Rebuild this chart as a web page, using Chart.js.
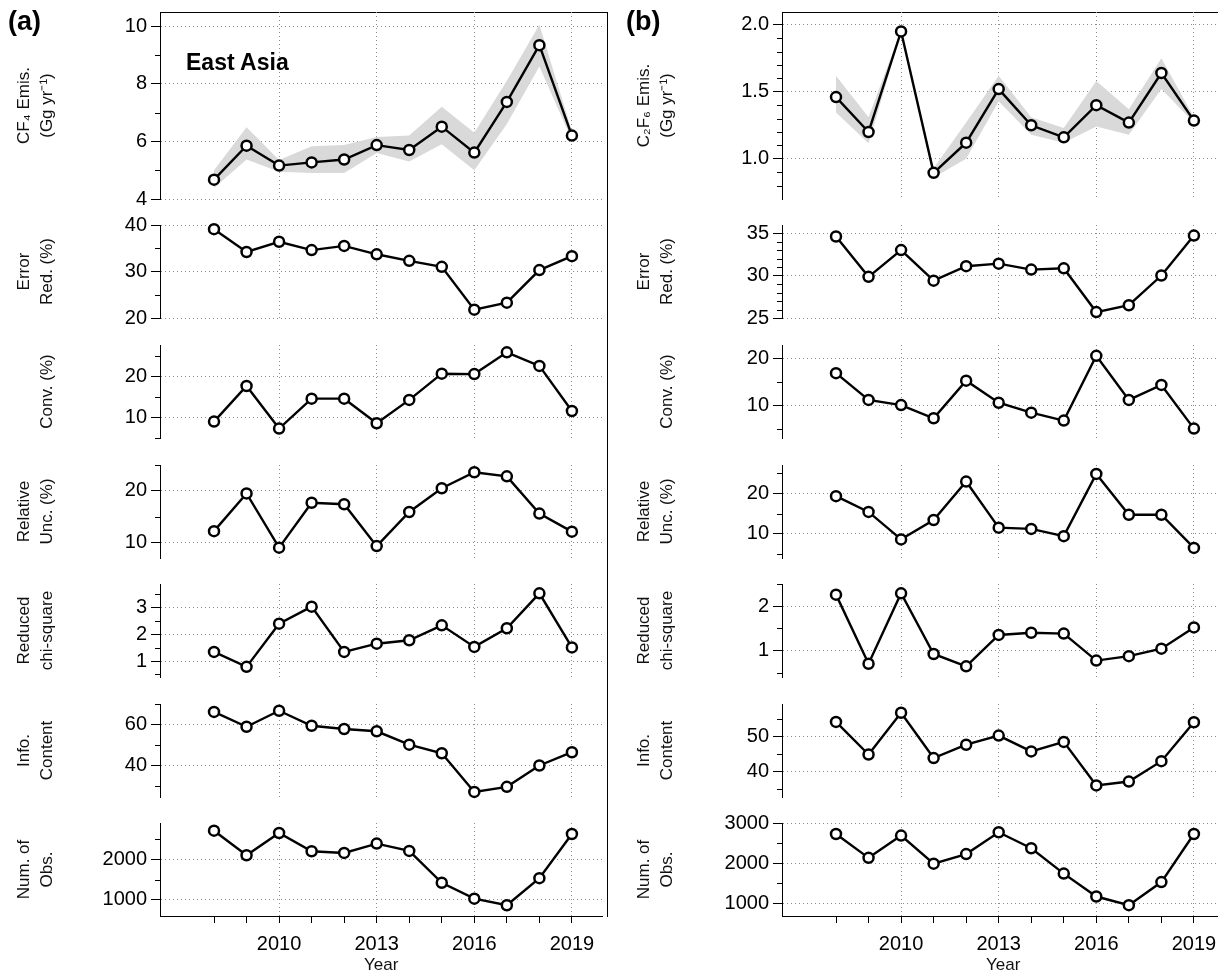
<!DOCTYPE html>
<html>
<head>
<meta charset="utf-8">
<style>
  html, body { margin: 0; padding: 0; background: #fff; overflow: hidden; }
  #page { position: relative; width: 1218px; height: 978px; overflow: hidden; font-family: "Liberation Sans", Arial, sans-serif; }
  #page canvas { position: absolute; }
  .frame { position: absolute; box-sizing: border-box; border-top: 1px solid #000; border-right: 1px solid #000; }
  .tag { position: absolute; font-weight: bold; color: #000; white-space: nowrap; line-height: 1; }
</style>
</head>
<body>
<div id="page"></div>
<script src="https://cdn.jsdelivr.net/npm/chart.js"></script>
<script>
const years = [2008, 2009, 2010, 2011, 2012, 2013, 2014, 2015, 2016, 2017, 2018, 2019];
const yearLabels = [2010, 2013, 2016, 2019];

// (a) CF4, East Asia
const cf4Emis   = [4.67, 5.85, 5.16, 5.27, 5.37, 5.87, 5.70, 6.51, 5.61, 7.37, 9.34, 6.20];
const cf4Upper  = [5.00, 6.49, 5.35, 5.83, 5.87, 6.15, 6.20, 7.20, 6.30, 8.10, 10.05, 6.35];
const cf4Lower  = [4.38, 5.37, 4.95, 4.90, 4.90, 5.60, 5.30, 5.90, 5.00, 6.60, 8.60, 6.05];
const cf4ErrRed = [39.1, 34.2, 36.4, 34.6, 35.5, 33.7, 32.3, 31.0, 21.8, 23.3, 30.3, 33.3];
const cf4Conv   = [9.0, 17.7, 7.3, 14.6, 14.6, 8.6, 14.3, 20.7, 20.6, 25.9, 22.6, 11.6];
const cf4RelUnc = [12.2, 19.5, 9.0, 17.7, 17.4, 9.3, 15.9, 20.5, 23.6, 22.8, 15.6, 12.1];
const cf4Chi    = [1.34, 0.78, 2.40, 3.04, 1.34, 1.65, 1.78, 2.34, 1.53, 2.23, 3.54, 1.51];
const cf4Info   = [66.3, 59.0, 66.9, 59.5, 57.9, 56.8, 50.2, 46.0, 27.0, 29.5, 40.0, 46.5];
const cf4Obs    = [2719, 2107, 2661, 2207, 2165, 2397, 2215, 1421, 1025, 860, 1537, 2636];

// (b) C2F6
const c2f6Emis   = [1.46, 1.20, 1.95, 0.895, 1.12, 1.52, 1.25, 1.16, 1.40, 1.27, 1.64, 1.285];
const c2f6Upper  = [1.62, 1.31, 1.96, 0.93, 1.27, 1.62, 1.31, 1.23, 1.58, 1.37, 1.75, 1.31];
const c2f6Lower  = [1.345, 1.115, 1.94, 0.86, 1.00, 1.43, 1.18, 1.12, 1.24, 1.18, 1.52, 1.27];
const c2f6ErrRed = [34.6, 29.85, 33.0, 29.4, 31.1, 31.4, 30.7, 30.85, 25.7, 26.5, 30.0, 34.7];
const c2f6Conv   = [16.9, 11.2, 10.1, 7.3, 15.3, 10.6, 8.5, 6.8, 20.6, 11.2, 14.4, 5.1];
const c2f6RelUnc = [19.3, 15.4, 8.6, 13.4, 22.9, 11.5, 11.2, 9.4, 24.8, 14.7, 14.7, 6.5];
const c2f6Chi    = [2.26, 0.70, 2.29, 0.92, 0.64, 1.35, 1.40, 1.38, 0.77, 0.87, 1.04, 1.52];
const c2f6Info   = [54.1, 44.8, 56.7, 43.8, 47.6, 50.2, 45.7, 48.4, 36.0, 37.1, 42.9, 54.0];
const c2f6Obs    = [2728, 2136, 2687, 1992, 2230, 2770, 2375, 1745, 1177, 963, 1535, 2728];

const page = document.getElementById('page');
const xMin = 2006.34, xMax = 2019.94;
const plotW = 447;
const rows = [[12, 199], [225, 318], [345, 438], [465, 558], [584, 677], [704, 797], [823, 916]];
const gridColor = '#8c8c8c';
const tickFont = { family: 'Liberation Sans', size: 20 };
const titleFont = { family: 'Liberation Sans', size: 17, lineHeight: 1.4 };

const colA = {
  left: 0, axis: 160, titlePad: 12, tag: '(a)', tagX: 8,
  panels: [
    { title: ['CF₄ Emis.', '(Gg yr⁻¹)'], data: cf4Emis, upper: cf4Upper, lower: cf4Lower, min: 4, max: 10.49, major: [4, 6, 8, 10], minor: [5, 7, 9] },
    { title: ['Error', 'Red. (%)'], data: cf4ErrRed, min: 20, max: 40, major: [20, 30, 40], minor: [25, 35] },
    { title: ['', 'Conv. (%)'], data: cf4Conv, min: 5, max: 27.7, major: [10, 20], minor: [5, 15, 25] },
    { title: ['Relative', 'Unc. (%)'], data: cf4RelUnc, min: 7, max: 25, major: [10, 20], minor: [15, 25] },
    { title: ['Reduced', 'chi-square'], data: cf4Chi, min: 0.4, max: 3.89, major: [1, 2, 3], minor: [0.5, 1.5, 2.5, 3.5] },
    { title: ['Info.', 'Content'], data: cf4Info, min: 24.5, max: 70.2, major: [40, 60], minor: [30, 50, 70] },
    { title: ['Num. of', 'Obs.'], data: cf4Obs, min: 593, max: 2911, major: [1000, 2000], minor: [1500, 2500] }
  ]
};

const colB = {
  left: 610, axis: 782, titlePad: 22, tag: '(b)', tagX: 626,
  panels: [
    { title: ['C₂F₆ Emis.', '(Gg yr⁻¹)'], data: c2f6Emis, upper: c2f6Upper, lower: c2f6Lower, min: 0.70, max: 2.095, dec: 1,
      major: [1.0, 1.5, 2.0], minor: [0.8, 0.9, 1.1, 1.2, 1.3, 1.4, 1.6, 1.7, 1.8, 1.9] },
    { title: ['Error', 'Red. (%)'], data: c2f6ErrRed, min: 25, max: 35.95, major: [25, 30, 35], minor: [26, 27, 28, 29, 31, 32, 33, 34] },
    { title: ['', 'Conv. (%)'], data: c2f6Conv, min: 3.1, max: 22.9, major: [10, 20], minor: [5, 15] },
    { title: ['Relative', 'Unc. (%)'], data: c2f6RelUnc, min: 4, max: 27, major: [10, 20], minor: [5, 15, 25] },
    { title: ['Reduced', 'chi-square'], data: c2f6Chi, min: 0.4, max: 2.5, major: [1, 2], minor: [0.5, 1.5, 2.5] },
    { title: ['Info.', 'Content'], data: c2f6Info, min: 32.7, max: 59.2, major: [40, 50], minor: [35, 45, 55] },
    { title: ['Num. of', 'Obs.'], data: c2f6Obs, min: 694, max: 3000, major: [1000, 2000, 3000], minor: [1500, 2500] }
  ]
};

// short unlabeled ticks on the y axis
const minorTicks = {
  id: 'minorTicks',
  afterDraw(chart, args, opts) {
    const ys = chart.scales.y;
    const ctx = chart.ctx;
    ctx.save();
    ctx.strokeStyle = '#000';
    ctx.lineWidth = 1;
    (opts.values || []).forEach(v => {
      const py = Math.round(ys.getPixelForValue(v)) + 0.5;
      ctx.beginPath();
      ctx.moveTo(ys.right - 5, py);
      ctx.lineTo(ys.right, py);
      ctx.stroke();
    });
    ctx.restore();
  }
};

function makePanel(col, p, i) {
  const top = rows[i][0], bottom = rows[i][1];
  const last = i === rows.length - 1;
  const padT = 16, padB = last ? 2 : 16, xh = last ? 60 : 0;
  const w = (col.axis - col.left) + plotW + 3;
  const h = padT + (bottom - top) + xh + padB;
  const cv = document.createElement('canvas');
  cv.width = w; cv.height = h;
  cv.style.left = col.left + 'px';
  cv.style.top = (top - padT) + 'px';
  page.appendChild(cv);

  const datasets = [{
    data: years.map((x, k) => ({ x, y: p.data[k] })),
    borderColor: '#000', borderWidth: 2.4,
    pointRadius: 5, pointBorderWidth: 2.5,
    pointBackgroundColor: '#fff', pointBorderColor: '#000',
    fill: false, clip: false
  }];
  if (p.upper) {
    datasets.push({
      data: years.map((x, k) => ({ x, y: p.upper[k] })),
      borderWidth: 0, pointRadius: 0, fill: false
    });
    datasets.push({
      data: years.map((x, k) => ({ x, y: p.lower[k] })),
      borderWidth: 0, pointRadius: 0, fill: '-1',
      backgroundColor: 'rgb(217,217,217)'
    });
  }

  new Chart(cv, {
    type: 'line',
    data: { datasets },
    plugins: [minorTicks],
    options: {
      responsive: false, animation: false, devicePixelRatio: 1,
      layout: { padding: { top: padT, bottom: padB, left: 0, right: 3 } },
      elements: { line: { tension: 0 } },
      plugins: {
        legend: { display: false },
        tooltip: { enabled: false },
        minorTicks: { values: p.minor }
      },
      scales: {
        x: {
          type: 'linear', min: xMin, max: xMax,
          afterBuildTicks: s => { s.ticks = (last ? years : yearLabels).map(v => ({ value: v })); },
          afterFit: s => { s.height = xh; },
          ticks: {
            display: last, color: '#000', font: tickFont, padding: 9, autoSkip: false, maxRotation: 0,
            callback: v => yearLabels.includes(v) ? String(v) : ''
          },
          grid: {
            color: c => (c.tick && yearLabels.includes(c.tick.value)) ? gridColor : 'rgba(0,0,0,0)',
            drawTicks: last, tickLength: 7, tickColor: '#000', lineWidth: 1
          },
          border: { display: last, color: '#000', width: 1, dash: [1, 3] },
          title: { display: last, text: 'Year', color: '#111', font: { family: 'Liberation Sans', size: 17 }, padding: { top: 0, bottom: 0 } }
        },
        y: {
          type: 'linear', min: p.min, max: p.max,
          afterBuildTicks: s => { s.ticks = p.major.map(v => ({ value: v })); },
          afterFit: s => { s.width = col.axis - col.left; },
          ticks: {
            color: '#000', font: tickFont, padding: 4, autoSkip: false,
            callback: v => Number(v).toFixed(p.dec || 0)
          },
          grid: { color: gridColor, lineWidth: 1, tickLength: 9, tickColor: '#000' },
          border: { display: true, color: '#000', width: 1, dash: [1, 3] },
          title: { display: true, text: p.title, color: '#111', font: titleFont, padding: { top: col.titlePad, bottom: 0 } }
        }
      }
    }
  });
}

[colA, colB].forEach(col => {
  const frame = document.createElement('div');
  frame.className = 'frame';
  frame.style.left = col.axis + 'px';
  frame.style.top = rows[0][0] + 'px';
  frame.style.width = (plotW + 1) + 'px';
  frame.style.height = (rows[6][1] - rows[0][0] + 1) + 'px';
  page.appendChild(frame);

  col.panels.forEach((p, i) => makePanel(col, p, i));

  const tag = document.createElement('div');
  tag.className = 'tag';
  tag.style.left = col.tagX + 'px';
  tag.style.top = '8px';
  tag.style.fontSize = '27px';
  tag.textContent = col.tag;
  page.appendChild(tag);
});

const region = document.createElement('div');
region.className = 'tag';
region.style.left = '186px';
region.style.top = '51px';
region.style.fontSize = '23px';
region.textContent = 'East Asia';
page.appendChild(region);
</script>
</body>
</html>
